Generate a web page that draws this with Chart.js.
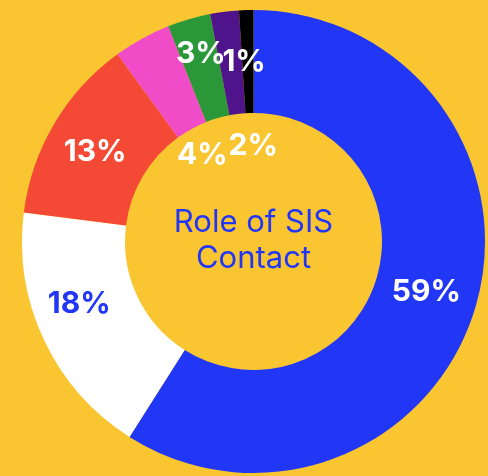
<!DOCTYPE html>
<html>
<head>
<meta charset="utf-8">
<script src="https://cdn.jsdelivr.net/npm/chart.js@4"></script>
<style>
  html, body { margin: 0; padding: 0; background: #F9C632; }
  #wrap { width: 488px; height: 476px; }
</style>
</head>
<body>
<div id="wrap"><canvas id="canvas"></canvas></div>
<script>
var roles = ['Role A', 'Role B', 'Role C', 'Role D', 'Role E', 'Role F', 'Role G'];
var shares = [59, 18, 13, 4, 3, 2, 1];
var sliceColors = ['#2236F6', '#FFFFFF', '#F44A35', '#F04CC8', '#2A9839', '#4F148C', '#000000'];
var centerLines = ['Role of SIS', 'Contact'];

// where each percentage sits: fraction of the ring thickness (can go inside the hole) and angle nudge in degrees
var labelPlace = [[0.5, 0], [0.55, 5.5], [0.52, -1], [-0.27, -1.7], [0.64, 0.5], [-0.32, 7], [0.5, -1.2]];
var labelColors = ['#FFFFFF', '#2236F6', '#FFFFFF', '#FFFFFF', '#FFFFFF', '#FFFFFF', '#FFFFFF'];

var sliceLabels = {
    id: 'sliceLabels',
    afterDatasetsDraw: function(chart) {
        var ctx = chart.ctx;
        var arcs = chart.getDatasetMeta(0).data;
        ctx.save();
        ctx.font = 'bold 30px Inter';
        ctx.textAlign = 'center';
        ctx.textBaseline = 'middle';
        arcs.forEach(function(arc, i) {
            var p = arc.getProps(['x', 'y', 'startAngle', 'endAngle', 'innerRadius', 'outerRadius'], true);
            var mid = (p.startAngle + p.endAngle) / 2 + labelPlace[i][1] * Math.PI / 180;
            var r = p.innerRadius + (p.outerRadius - p.innerRadius) * labelPlace[i][0];
            ctx.fillStyle = labelColors[i];
            ctx.fillText(shares[i] + '%', p.x + r * Math.cos(mid), p.y + r * Math.sin(mid));
        });
        // centre caption
        var a = arcs[0];
        ctx.font = '31px Inter';
        ctx.fillStyle = '#2236F6';
        ctx.fillText(centerLines[0], a.x, a.y - 19);
        ctx.fillText(centerLines[1], a.x, a.y + 17);
        ctx.restore();
    }
};

window.onload = function() {
    var ctx = document.getElementById('canvas').getContext('2d');
    window.myDonut = new Chart(ctx, {
        type: 'doughnut',
        data: {
            labels: roles,
            datasets: [{
                data: shares,
                backgroundColor: sliceColors,
                borderWidth: 0
            }]
        },
        options: {
            responsive: true,
            maintainAspectRatio: false,
            animation: false,
            cutout: '55.5%',
            layout: { padding: { left: 20, right: 1, top: 10, bottom: 3 } },
            plugins: {
                legend: { display: false },
                tooltip: { enabled: false }
            }
        },
        plugins: [sliceLabels]
    });
};
</script>
</body>
</html>
